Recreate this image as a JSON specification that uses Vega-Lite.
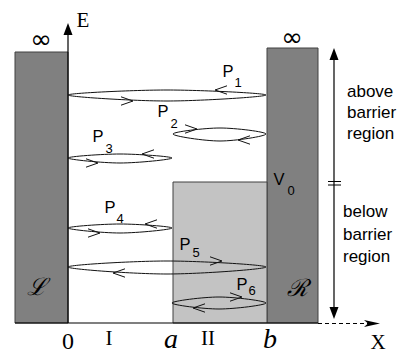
{
  "$schema": "https://vega.github.io/schema/vega-lite/v6.json",
  "width": 401,
  "height": 354,
  "padding": 0,
  "autosize": "none",
  "background": "white",
  "config": {"view": {"stroke": null}},
  "datasets": {
    "rects": [
      {"kind": "wall", "x": 15, "x2": 68, "y": 52, "y2": 323},
      {"kind": "wall", "x": 267, "x2": 318, "y": 48, "y2": 323},
      {"kind": "barrier", "x": 173, "x2": 267, "y": 182, "y2": 323}
    ],
    "lines": [
      {"dash": "solid", "x": 68, "x2": 68, "y": 323, "y2": 34},
      {"dash": "solid", "x": 15, "x2": 318, "y": 323, "y2": 323},
      {"dash": "dashed", "x": 318, "x2": 370, "y": 323.5, "y2": 323.5},
      {"dash": "solid", "x": 334, "x2": 334, "y": 60, "y2": 308},
      {"dash": "solid", "x": 328, "x2": 341, "y": 181.5, "y2": 181.5},
      {"dash": "solid", "x": 328, "x2": 341, "y": 185, "y2": 185}
    ],
    "orbits": [
      {"orbit": "P1", "o": 1, "x": 68, "y": 95},
      {"orbit": "P1", "o": 2, "x": 167, "y": 90},
      {"orbit": "P1", "o": 3, "x": 266, "y": 95},
      {"orbit": "P1", "o": 4, "x": 167, "y": 101},
      {"orbit": "P2", "o": 1, "x": 173, "y": 134},
      {"orbit": "P2", "o": 2, "x": 220, "y": 128},
      {"orbit": "P2", "o": 3, "x": 266, "y": 134},
      {"orbit": "P2", "o": 4, "x": 220, "y": 141},
      {"orbit": "P3", "o": 1, "x": 68, "y": 158},
      {"orbit": "P3", "o": 2, "x": 120, "y": 154},
      {"orbit": "P3", "o": 3, "x": 172, "y": 158},
      {"orbit": "P3", "o": 4, "x": 120, "y": 163},
      {"orbit": "P4", "o": 1, "x": 68, "y": 228},
      {"orbit": "P4", "o": 2, "x": 120, "y": 224},
      {"orbit": "P4", "o": 3, "x": 172, "y": 228},
      {"orbit": "P4", "o": 4, "x": 120, "y": 233},
      {"orbit": "P5", "o": 1, "x": 68, "y": 267},
      {"orbit": "P5", "o": 2, "x": 167, "y": 261},
      {"orbit": "P5", "o": 3, "x": 266, "y": 267},
      {"orbit": "P5", "o": 4, "x": 167, "y": 274},
      {"orbit": "P6", "o": 1, "x": 172, "y": 303},
      {"orbit": "P6", "o": 2, "x": 219, "y": 297},
      {"orbit": "P6", "o": 3, "x": 266, "y": 303},
      {"orbit": "P6", "o": 4, "x": 219, "y": 309}
    ],
    "chevrons": [
      {"dir": "left", "x": 215, "y": 90},
      {"dir": "right", "x": 133, "y": 101},
      {"dir": "right", "x": 197, "y": 129},
      {"dir": "left", "x": 238, "y": 140},
      {"dir": "left", "x": 142, "y": 154},
      {"dir": "right", "x": 98, "y": 163},
      {"dir": "left", "x": 145, "y": 224},
      {"dir": "right", "x": 100, "y": 233},
      {"dir": "left", "x": 113, "y": 273},
      {"dir": "right", "x": 222, "y": 261},
      {"dir": "right", "x": 242, "y": 297},
      {"dir": "left", "x": 193, "y": 308}
    ],
    "heads": [
      {"dir": "up", "x": 68, "y": 23},
      {"dir": "up", "x": 334, "y": 48},
      {"dir": "down", "x": 334, "y": 319}
    ],
    "xhead": [
      {"x": 380, "y": 323.5}
    ],
    "plabels": [
      {"t": "P", "x": 228, "y": 77},
      {"t": "P", "x": 163, "y": 117},
      {"t": "P", "x": 98, "y": 142},
      {"t": "P", "x": 110, "y": 213},
      {"t": "P", "x": 185, "y": 250},
      {"t": "P", "x": 242, "y": 290},
      {"t": "V", "x": 279, "y": 185}
    ],
    "subs": [
      {"t": "1", "x": 238, "y": 87},
      {"t": "2", "x": 174, "y": 128},
      {"t": "3", "x": 109, "y": 153},
      {"t": "4", "x": 120, "y": 223},
      {"t": "5", "x": 196, "y": 257},
      {"t": "6", "x": 252, "y": 295},
      {"t": "0", "x": 291, "y": 195}
    ],
    "regions": [
      {"t": "above", "x": 347, "y": 97},
      {"t": "barrier", "x": 347, "y": 118},
      {"t": "region", "x": 347, "y": 139},
      {"t": "below", "x": 343, "y": 217},
      {"t": "barrier", "x": 343, "y": 240},
      {"t": "region", "x": 343, "y": 262}
    ],
    "serif": [
      {"t": "I", "x": 109, "y": 345},
      {"t": "II", "x": 208, "y": 345},
      {"t": "X", "x": 378, "y": 349},
      {"t": "E", "x": 83, "y": 27}
    ],
    "zero": [
      {"t": "0", "x": 68, "y": 348.5}
    ],
    "italics": [
      {"t": "a", "x": 171, "y": 348},
      {"t": "b", "x": 270, "y": 348}
    ],
    "symbols": [
      {"t": "∞", "x": 41, "y": 40},
      {"t": "∞", "x": 292, "y": 38}
    ],
    "scripts": [
      {"t": "ℒ", "x": 37, "y": 288},
      {"t": "ℛ", "x": 297, "y": 289}
    ]
  },
  "encoding": {
    "x": {"field": "x", "type": "quantitative", "scale": {"domain": [0, 401], "nice": false, "zero": false}, "axis": null},
    "y": {"field": "y", "type": "quantitative", "scale": {"domain": [0, 354], "nice": false, "zero": false, "reverse": true}, "axis": null}
  },
  "layer": [
    {
      "data": {"name": "rects"},
      "mark": {"type": "rect", "stroke": "#404040", "strokeWidth": 1},
      "encoding": {
        "x2": {"field": "x2"},
        "y2": {"field": "y2"},
        "fill": {"field": "kind", "type": "nominal", "scale": {"domain": ["wall", "barrier"], "range": ["#808080", "#c3c3c3"]}, "legend": null}
      }
    },
    {
      "data": {"name": "lines"},
      "mark": {"type": "rule", "color": "black", "strokeWidth": 1.2},
      "encoding": {
        "x2": {"field": "x2"},
        "y2": {"field": "y2"},
        "strokeDash": {"field": "dash", "type": "nominal", "scale": {"domain": ["solid", "dashed"], "range": [[1, 0], [4, 3]]}, "legend": null}
      }
    },
    {
      "data": {"name": "orbits"},
      "mark": {"type": "line", "interpolate": "cardinal-closed", "color": "#111", "strokeWidth": 1},
      "encoding": {
        "detail": {"field": "orbit", "type": "nominal"},
        "order": {"field": "o", "type": "quantitative"}
      }
    },
    {
      "data": {"name": "chevrons"},
      "transform": [{"filter": "datum.dir == 'right'"}],
      "mark": {"type": "point", "shape": "M-2,-0.7L0,0L-2,0.7", "filled": false, "stroke": "#111", "strokeWidth": 1, "size": 144, "opacity": 1}
    },
    {
      "data": {"name": "chevrons"},
      "transform": [{"filter": "datum.dir == 'left'"}],
      "mark": {"type": "point", "shape": "M2,-0.7L0,0L2,0.7", "filled": false, "stroke": "#111", "strokeWidth": 1, "size": 144, "opacity": 1}
    },
    {
      "data": {"name": "heads"},
      "transform": [{"filter": "datum.dir == 'up'"}],
      "mark": {"type": "point", "shape": "M0,0L-0.75,2L0.75,2Z", "filled": true, "fill": "black", "strokeWidth": 0, "size": 144, "opacity": 1}
    },
    {
      "data": {"name": "heads"},
      "transform": [{"filter": "datum.dir == 'down'"}],
      "mark": {"type": "point", "shape": "M0,0L-0.75,-2L0.75,-2Z", "filled": true, "fill": "black", "strokeWidth": 0, "size": 144, "opacity": 1}
    },
    {
      "data": {"name": "xhead"},
      "mark": {"type": "point", "shape": "M0,0L-2,-0.45L-1.5,0L-2,0.45Z", "filled": true, "fill": "black", "strokeWidth": 0, "size": 256, "opacity": 1}
    },
    {
      "data": {"name": "plabels"},
      "mark": {"type": "text", "font": "Liberation Sans", "fontSize": 16.5, "align": "center", "baseline": "alphabetic", "color": "black"},
      "encoding": {"text": {"field": "t"}}
    },
    {
      "data": {"name": "subs"},
      "mark": {"type": "text", "font": "Liberation Sans", "fontSize": 13, "align": "center", "baseline": "alphabetic", "color": "black"},
      "encoding": {"text": {"field": "t"}}
    },
    {
      "data": {"name": "regions"},
      "mark": {"type": "text", "font": "Liberation Sans", "fontSize": 17, "align": "left", "baseline": "alphabetic", "color": "black"},
      "encoding": {"text": {"field": "t"}}
    },
    {
      "data": {"name": "serif"},
      "mark": {"type": "text", "font": "Liberation Serif", "fontSize": 21, "align": "center", "baseline": "alphabetic", "color": "black"},
      "encoding": {"text": {"field": "t"}}
    },
    {
      "data": {"name": "zero"},
      "mark": {"type": "text", "font": "Liberation Serif", "fontSize": 24, "align": "center", "baseline": "alphabetic", "color": "black"},
      "encoding": {"text": {"field": "t"}}
    },
    {
      "data": {"name": "italics"},
      "mark": {"type": "text", "font": "Liberation Serif", "fontStyle": "italic", "fontSize": 28, "align": "center", "baseline": "alphabetic", "color": "black"},
      "encoding": {"text": {"field": "t"}}
    },
    {
      "data": {"name": "symbols"},
      "mark": {"type": "text", "font": "DejaVu Sans", "fontSize": 26, "align": "center", "baseline": "middle", "color": "black"},
      "encoding": {"text": {"field": "t"}}
    },
    {
      "data": {"name": "scripts"},
      "mark": {"type": "text", "font": "DejaVu Serif", "fontStyle": "italic", "fontSize": 24, "align": "center", "baseline": "middle", "color": "black"},
      "encoding": {"text": {"field": "t"}}
    }
  ]
}
